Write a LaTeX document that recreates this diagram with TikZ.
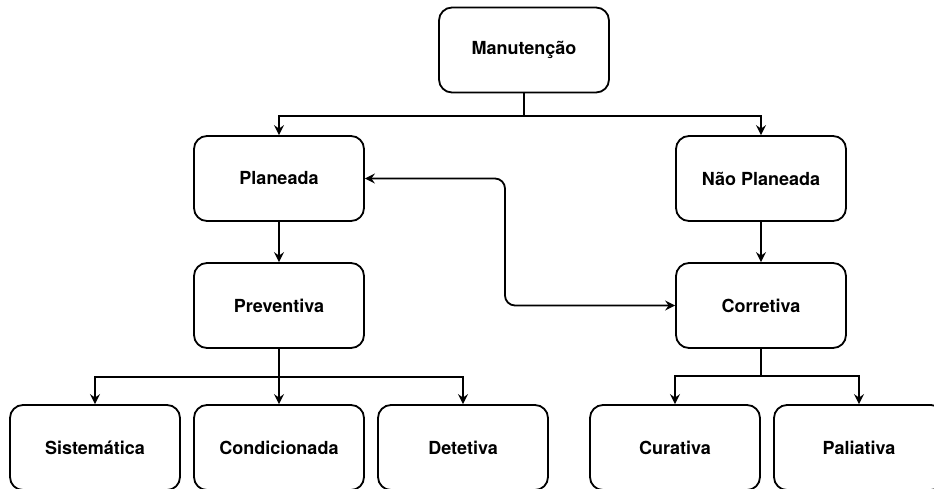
\documentclass[tikz,border=0pt]{standalone}
\usepackage{fontspec}
\setmainfont{TeX Gyre Heros}
\usetikzlibrary{arrows.meta,calc}
\begin{document}
\begin{tikzpicture}[x=1pt,y=-1pt,
  box/.style={draw,line width=1.8pt,rounded corners=13pt,minimum width=170pt,minimum height=85pt,inner sep=0pt,font=\fontsize{18pt}{21pt}\selectfont\bfseries},
  tip/.style={Stealth[length=10pt,width=10pt,inset=3.5pt]},
  conn/.style={line width=1.8pt,-{Stealth[length=10pt,width=10pt,inset=3.5pt]}},
  both/.style={line width=1.8pt,{Stealth[length=10pt,width=10pt,inset=3.5pt]}-{Stealth[length=10pt,width=10pt,inset=3.5pt]},rounded corners=10pt}]
\clip (0,0) rectangle (934,488);
\fill[white] (0,0) rectangle (934,488);
\node[box] (man) at (524,50) {Manutenção};
\node[box] (plan) at (279,178.5) {Planeada};
\node[box] (naop) at (761,178.5) {Não Planeada};
\node[box] (prev) at (279,305.5) {Preventiva};
\node[box] (corr) at (761,305.5) {Corretiva};
\node[box] (sist) at (95,447.5) {Sistemática};
\node[box] (cond) at (279,447.5) {Condicionada};
\node[box] (det) at (463,447.5) {Detetiva};
\node[box] (cur) at (675,447.5) {Curativa};
\node[box] (pal) at (859,447.5) {Paliativa};
\coordinate (j1) at (524,116);
\coordinate (j2) at (279,377);
\coordinate (j3) at (761,376);
\coordinate (mid) at (505,178.5);
\draw[line width=1.8pt] (man.south) -- (j1);
\draw[conn] (j1) -| (plan.north);
\draw[conn] (j1) -| (naop.north);
\draw[conn] (plan.south) -- (prev.north);
\draw[conn] (naop.south) -- (corr.north);
\draw[line width=1.8pt] (prev.south) -- (j2);
\draw[conn] (j2) -| (sist.north);
\draw[conn] (j2) -- (cond.north);
\draw[conn] (j2) -| (det.north);
\draw[line width=1.8pt] (corr.south) -- (j3);
\draw[conn] (j3) -| (cur.north);
\draw[conn] (j3) -| (pal.north);
\draw[both] (plan.east) -- (mid) -- (mid |- corr.west) -- (corr.west);
\end{tikzpicture}
\end{document}
